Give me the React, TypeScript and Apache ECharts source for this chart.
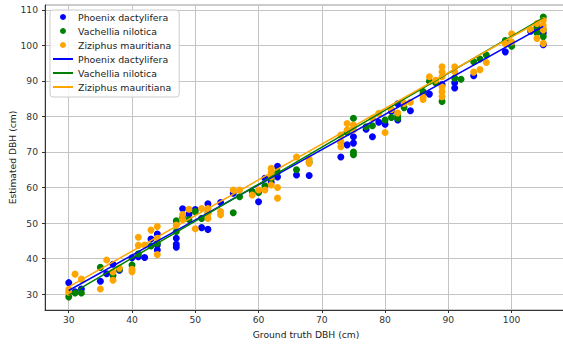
import React, { useEffect, useRef } from "react";
import * as echarts from "echarts";

const seriesNames = ["Phoenix dactylifera", "Vachellia nilotica", "Ziziphus mauritiana"];
const colors = ["#0000ff", "#008000", "#ffa500"];

const xTicks = [30, 40, 50, 60, 70, 80, 90, 100];
const yTicks = [30, 40, 50, 60, 70, 80, 90, 100, 110];

const phoenix: number[][] = [
  [30, 33.2], [31, 30.6], [32, 31.4], [35, 33.6], [36, 35.7], [37, 38.4], [38, 36.7], [40, 40.2],
  [41, 40.5], [42, 40.3], [43, 45.5], [44, 46.9], [44, 43.8], [44, 42.4], [47, 45.7], [47, 44],
  [47, 43.2], [48, 54], [49, 52.5], [50, 53.8], [51, 48.7], [52, 48.2], [52, 55.4], [54, 55.8],
  [56, 58.4], [60, 56], [61, 62.6], [62, 61.5], [63, 66], [63, 63], [66, 63.5], [68, 63.4],
  [73, 68.6], [74, 72], [75, 74.3], [75, 72.5], [77, 76.4], [78, 74.3], [79, 78.4], [80, 77.8],
  [81, 81.5], [82, 83.6], [82, 79], [84, 81.6], [86, 86.3], [87, 86.3], [89, 89], [91, 88],
  [91, 89.5], [94, 91.5], [99, 98.2], [103, 104], [104, 104.8], [105, 100.2], [105, 103.5],
];

const vachellia: number[][] = [
  [30, 29.2], [31, 30.3], [32, 30.3], [35, 37.5], [37, 35.2], [38, 37], [40, 38.2], [41, 41.3],
  [43, 43.5], [44, 44.3], [47, 50.6], [47, 47.6], [48, 51.5], [49, 51], [50, 53.2], [51, 51.3],
  [52, 52.8], [56, 52.9], [57, 57.4], [59, 58.9], [60, 58.6], [61, 60.5], [62, 62.5], [63, 64.4],
  [66, 65], [68, 67.2], [73, 72.8], [74, 75.5], [75, 79.5], [75, 69.2], [75, 70], [77, 77.1],
  [78, 77.4], [80, 79], [81, 79.7], [82, 80.4], [82, 79.5], [83, 82.5], [86, 87], [87, 89.9],
  [88, 89.5], [89, 84.2], [91, 90.8], [92, 90.5], [94, 95.4], [95, 96.2], [96, 97.3], [99, 101.4],
  [100, 99.8], [104, 105.3], [104, 103.5], [105, 108], [105, 102.5], [105, 104.5],
];

const ziziphus: number[][] = [
  [30, 31.3], [30, 30.5], [31, 35.6], [32, 34.2], [35, 31.4], [36, 39.6], [37, 33.9], [37, 36.2],
  [38, 37.3], [40, 37], [40, 36.3], [41, 46], [41, 43.7], [42, 43.8], [43, 48], [44, 49],
  [44, 45.7], [44, 41.1], [47, 49.4], [48, 52.4], [48, 51], [49, 53.9], [50, 48.4], [51, 54.1],
  [52, 54.1], [52, 52.7], [52, 51.3], [54, 53.2], [54, 52.3], [56, 59.3], [57, 59.3], [59, 57.9],
  [60, 59.3], [61, 59.3], [62, 65.4], [62, 64.4], [62, 63], [62, 60.7], [63, 60], [63, 57],
  [66, 68.6], [68, 68], [68, 66.8], [73, 74.8], [73, 72.9], [73, 71.5], [74, 78], [74, 76.2],
  [75, 77.6], [75, 76.2], [78, 79.5], [79, 80.9], [80, 75.5], [81, 82], [82, 81], [83, 83.7],
  [84, 84], [86, 84.8], [86, 85.5], [87, 91.2], [88, 90.2], [89, 94], [89, 92.6], [89, 91.2],
  [89, 88.4], [89, 87], [89, 85.6], [91, 94], [91, 92.6], [94, 92.5], [95, 93.2], [96, 95.2],
  [99, 100.5], [100, 103.3], [100, 101], [103, 104.4], [104, 106.2], [104, 102], [105, 107],
  [105, 105.6], [105, 104.4], [105, 100.6],
];

// regression line endpoints
const phoenixFit: number[][] = [[30, 31.0], [105, 105.4]];
const vachelliaFit: number[][] = [[30, 29.7], [105, 107.8]];
const ziziphusFit: number[][] = [[30, 32.0], [105, 107.4]];

const FONT = "DejaVu Sans";

export default function App() {
  const ref = useRef<HTMLDivElement>(null);
  useEffect(() => {
    if (!ref.current) return;
    const chart = echarts.init(ref.current, undefined, { renderer: "svg" });
    const scatterData = [phoenix, vachellia, ziziphus];
    const fitData = [phoenixFit, vachelliaFit, ziziphusFit];
    const lineNames = seriesNames.map((n) => n + "\u200b");
    const series: any[] = [];
    scatterData.forEach((d, i) => {
      series.push({
        type: "scatter",
        name: seriesNames[i],
        data: d,
        symbolSize: 7,
        itemStyle: { color: colors[i], opacity: 1 },
        z: 2,
      });
    });
    fitData.forEach((d, i) => {
      series.push({
        type: "line",
        name: lineNames[i],
        data: d,
        symbol: "none",
        showSymbol: false,
        lineStyle: { color: colors[i], width: 1.5 },
        itemStyle: { color: colors[i] },
        z: 3,
      });
    });
    chart.setOption({
      animation: false,
      backgroundColor: "#ffffff",
      textStyle: { fontFamily: FONT },
      grid: {
        left: 45,
        top: 5,
        width: 522,
        height: 305,
        containLabel: false,
        outerBoundsMode: "none",
        show: true,
        borderColor: "#999999",
        borderWidth: 1,
      },
      legend: {
        orient: "vertical",
        left: 50,
        top: 10,
        padding: [1, 8, 4, 3],
        itemWidth: 20,
        itemHeight: 6,
        itemGap: 2,
        backgroundColor: "rgba(255,255,255,0.85)",
        borderColor: "#cccccc",
        borderWidth: 1,
        borderRadius: 3,
        textStyle: { fontFamily: FONT, fontSize: 9.4, color: "#222", lineHeight: 12 },
        data: [
          ...seriesNames.map((n) => ({ name: n, icon: "circle" })),
          ...lineNames.map((n) => ({ name: n, icon: "path://M0,0H20V2H0Z" })),
        ],
      },
      xAxis: {
        type: "value",
        min: 26.25,
        max: 108.75,
        name: "Ground truth DBH (cm)",
        nameLocation: "middle",
        nameGap: 20,
        nameMoveOverlap: false,
        nameTextStyle: { fontFamily: FONT, fontSize: 9.2, color: "#222" },
        axisLine: { show: true, lineStyle: { color: "#333", width: 1 } },
        axisTick: { show: true, length: 3, customValues: xTicks, lineStyle: { color: "#333" } },
        axisLabel: {
          customValues: xTicks,
          margin: 5,
          fontFamily: FONT,
          fontSize: 9.2,
          color: "#333",
        },
        splitLine: { show: true, lineStyle: { color: "#c4c4c4", width: 1 } },
      },
      yAxis: {
        type: "value",
        min: 25.5,
        max: 111.4,
        name: "Estimated DBH (cm)",
        nameLocation: "middle",
        nameRotate: 90,
        nameGap: 28,
        nameMoveOverlap: false,
        nameTextStyle: { fontFamily: FONT, fontSize: 9.2, color: "#222" },
        axisLine: { show: true, lineStyle: { color: "#333", width: 1 } },
        axisTick: { show: true, length: 3, customValues: yTicks, lineStyle: { color: "#333" } },
        axisLabel: {
          customValues: yTicks,
          margin: 7,
          fontFamily: FONT,
          fontSize: 9.2,
          color: "#333",
        },
        splitLine: { show: true, lineStyle: { color: "#c4c4c4", width: 1 } },
      },
      series,
    });
    return () => chart.dispose();
  }, []);
  return (
    <div
      ref={ref}
      style={{ position: "absolute", left: 0, top: 0, width: 563, height: 344 }}
    />
  );
}
